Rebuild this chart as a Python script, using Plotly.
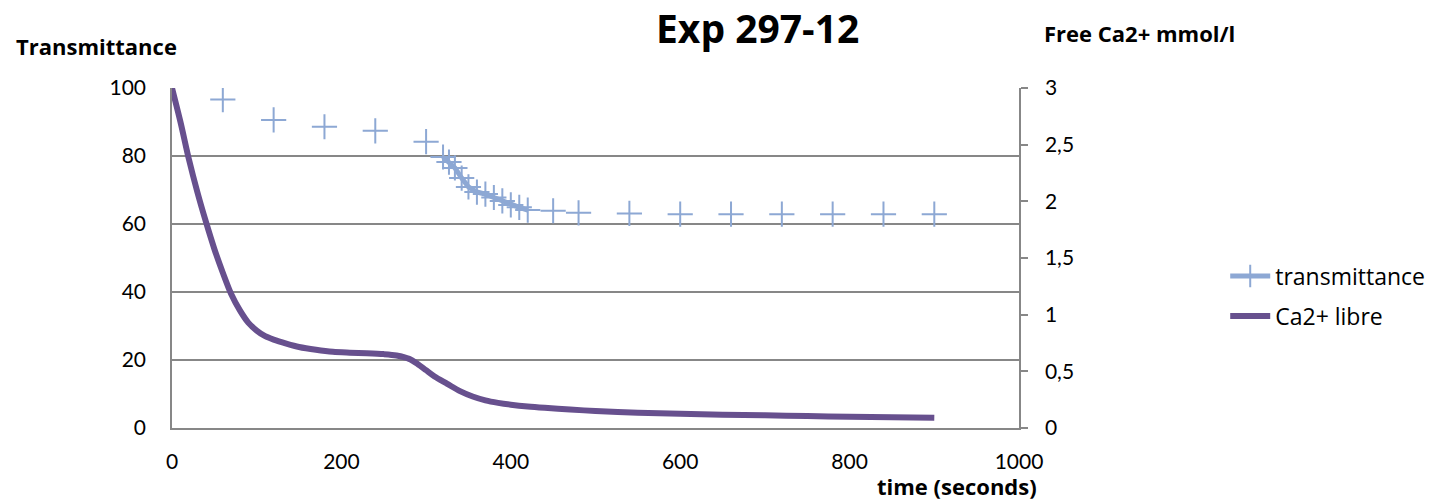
import plotly.graph_objects as go

# Transmittance (left axis); None = blank cells (no connecting line)
t_trans = [60, 90, 120, 150, 180, 210, 240, 270, 300, 310,
           320, 327, 334, 342, 350, 360, 370, 380, 390, 400, 410, 420,
           435, 450, 465, 480, 510, 540, 570, 600, 630, 660, 690, 720, 750, 780, 810, 840, 870, 900]
transmittance = [96.6, None, 90.6, None, 88.6, None, 87.4, None, 84.2, None,
                 79.7, 78.2, 76.5, 73.5, 70.9, 69.4, 68.8, 67.8, 66.8, 65.6, 64.9, 64.1,
                 None, 63.9, None, 63.3, None, 63.1, None, 62.9, None, 62.9, None, 62.9, None, 62.9, None, 62.9, None, 62.9]

# Free Ca2+ (right axis, mmol/l)
t_ca = [0, 10, 20, 30, 40, 50, 60, 70, 80, 90, 100, 110, 120, 135, 150, 170, 190, 210, 230, 250,
        265, 280, 290, 300, 310, 325, 340, 355, 370, 385, 400, 420, 440, 470, 500, 550, 600,
        650, 700, 750, 800, 850, 900]
ca_free = [3.0, 2.70, 2.37, 2.08, 1.82, 1.58, 1.37, 1.18, 1.04, 0.93, 0.86, 0.81, 0.78, 0.745, 0.715,
           0.69, 0.672, 0.665, 0.66, 0.652, 0.64, 0.61, 0.565, 0.51, 0.455, 0.39, 0.325, 0.278, 0.244,
           0.222, 0.206, 0.19, 0.178, 0.163, 0.15, 0.135, 0.125, 0.118, 0.112, 0.105, 0.1, 0.095, 0.09]

x_ticks = [0, 200, 400, 600, 800, 1000]
y_ticks = [0, 20, 40, 60, 80, 100]
y2_ticks = [0, 0.5, 1, 1.5, 2, 2.5, 3]

TICKFONT = "Lato, 'Open Sans', sans-serif"
TEXTFONT = "'Open Sans', Lato, sans-serif"
GRID = "#878787"
BLUE = "#8DA8D4"
PURPLE = "#67508E"

fig = go.Figure()
fig.add_trace(go.Scatter(
    x=t_trans, y=transmittance, name="transmittance", mode="lines+markers",
    connectgaps=False, line=dict(color=BLUE, width=5),
    marker=dict(symbol="cross-thin", size=18, line=dict(color=BLUE, width=2)),
    legend="legend"))
fig.add_trace(go.Scatter(
    x=t_ca, y=ca_free, name="Ca2+ libre", mode="lines", yaxis="y2",
    line=dict(color=PURPLE, width=6, shape="spline", smoothing=0.8), legend="legend2"))

fig.update_layout(
    width=1441, height=501,
    margin=dict(l=172, r=421, t=88, b=73),
    paper_bgcolor="white", plot_bgcolor="white",
    separators=", ",
    font=dict(family=TICKFONT, size=21, color="black"),
    showlegend=True,
    xaxis=dict(range=[0, 1000], tickvals=x_ticks, showgrid=False, zeroline=False,
               showline=True, linecolor=GRID, linewidth=1.5, ticks="",
               ticklabelstandoff=14, tickfont=dict(size=21)),
    yaxis=dict(range=[0, 100], tickvals=y_ticks, showgrid=True, gridcolor=GRID, gridwidth=1.5,
               zeroline=False, showline=True, linecolor=GRID, linewidth=1.5, ticks="",
               ticklabelstandoff=20, tickfont=dict(size=21)),
    yaxis2=dict(range=[0, 3], tickvals=y2_ticks, overlaying="y", side="right",
                showgrid=False, zeroline=False, showline=True, linecolor=GRID, linewidth=1.5,
                ticks="outside", ticklen=7, tickcolor=GRID, tickwidth=1.5,
                ticklabelstandoff=13, tickfont=dict(size=21)),
    legend=dict(x=1.242, y=0.447, xanchor="left", yanchor="middle",
                font=dict(family=TEXTFONT, size=23),
                bgcolor="rgba(0,0,0,0)", itemwidth=40),
    legend2=dict(x=1.242, y=0.329, xanchor="left", yanchor="middle",
                 font=dict(family=TEXTFONT, size=23),
                 bgcolor="rgba(0,0,0,0)", itemwidth=40),
)

# annotations positioned in pixel terms, converted to paper coords
pw, ph = 1441 - 172 - 421, 501 - 88 - 73
labels = [
    ("<b>Exp 297-12</b>", 758, 28, "center", 39),
    ("<b>Transmittance</b>", 14, 46, "left", 22),
    ("<b>Free Ca2+ mmol/l</b>", 1043, 33, "left", 22),
    ("<b>time (seconds)</b>", 1040, 486, "right", 22),
]
fig.update_layout(annotations=[
    dict(text=t, showarrow=False, xref="paper", yref="paper",
         x=(px - 172) / pw, y=(428 - py) / ph, xanchor=xa, yanchor="middle",
         font=dict(family=TEXTFONT, size=fs, color="black"))
    for t, px, py, xa, fs in labels
])

fig.write_html("out.html")
